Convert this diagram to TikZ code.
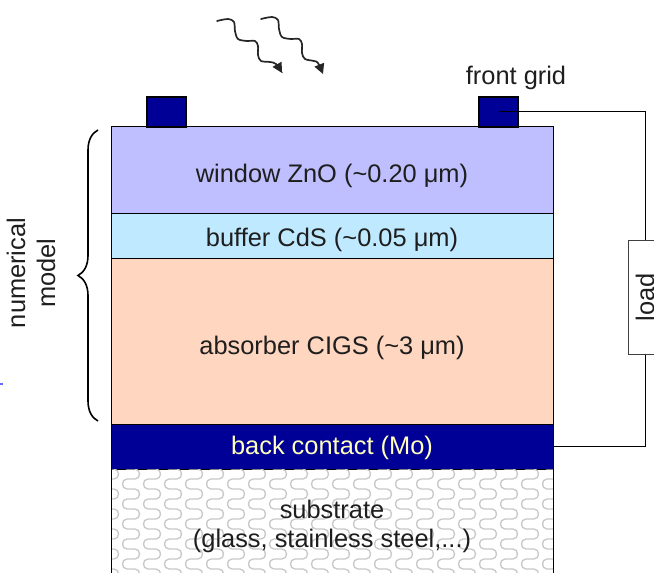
\documentclass[tikz,border=0pt]{standalone}
\usepackage{fontspec}
\setmainfont{Liberation Sans}
\usetikzlibrary{decorations.pathreplacing,arrows.meta}
\definecolor{winc}{RGB}{191,191,255}
\definecolor{bufc}{RGB}{191,233,255}
\definecolor{absc}{RGB}{255,214,192}
\definecolor{navyc}{RGB}{0,0,150}
\definecolor{txtc}{RGB}{255,255,191}
\definecolor{patc}{RGB}{200,200,200}
\definecolor{inkc}{RGB}{30,30,30}
\begin{document}
\begin{tikzpicture}[x=1bp,y=-1bp,
  txt/.style={font=\fontsize{25.5}{30}\selectfont, text=inkc, inner sep=0pt},
  layer/.style={draw=black, line width=1bp, minimum width=442bp, inner sep=0pt, outer sep=0pt, anchor=north west},
  gridc/.style={draw=black, line width=1.2bp, fill=navyc, minimum width=39bp, minimum height=30bp, inner sep=0pt},
  wire/.style={draw=black, line width=1bp},
  wavy/.style={draw=black!85, line width=1.7bp, line cap=round, -{Triangle[length=10bp,width=10bp]}},
  patline/.style={draw=patc, line width=1.3bp}]
\useasboundingbox (0,0) rectangle (654,573);
\clip (0,0) rectangle (654,573);

% layers
\node[layer, fill=winc, minimum height=86bp] (win) at (111,127) {};
\node[layer, fill=bufc, minimum height=45bp] (buf) at (111,213) {};
\node[layer, fill=absc, minimum height=166bp] (abs) at (111,258) {};
\node[layer, fill=navyc, minimum height=45bp] (back) at (111,424) {};
\node[txt] (wint) at (332,176) {window ZnO (\textasciitilde0.20 μm)};
\node[txt] (buft) at (332,240) {buffer CdS (\textasciitilde0.05 μm)};
\node[txt] (abst) at (332,347.5) {absorber CIGS (\textasciitilde3 μm)};
\node[txt, text=txtc] (backt) at (332,448) {back contact (Mo)};

% substrate
\node[anchor=north west, minimum width=442bp, minimum height=110bp, inner sep=0pt, outer sep=0pt] (sub) at (111,469) {};
\begin{scope}
\clip (sub.north west) rectangle (sub.south east);
\foreach \x in {104,125,...,570} {
  \draw[patline] (\x+10,459) \foreach \y in {459,479,...,579} { -- (\x+2,\y) .. controls (\x-4,\y) and (\x-4,\y+10) .. (\x+2,\y+10) -- (\x+10,\y+10) .. controls (\x+16,\y+10) and (\x+16,\y+20) .. (\x+10,\y+20) };
}
\end{scope}
\draw[wire] (sub.north west) -- (sub.south west);
\draw[wire] (sub.north east) -- (sub.south east);
\node[txt, align=center, font=\fontsize{25.5}{29}\selectfont] (subtxt) at (332,526) {substrate\\(glass, stainless steel,...)};

% front grid contacts
\node[gridc] (g1) at (166.5,112) {};
\node[gridc] (g2) at (498.5,112) {};
\node[txt] (fg) at (516,77.5) {front grid};

% load and wires
\node[draw=black!75, line width=1bp, minimum width=34bp, minimum height=114bp, inner sep=0pt] (load) at (645,297) {};
\node[txt, rotate=90] (loadtxt) at (load.center) {load};
\draw[wire] (g2.center) -| (load.north);
\draw[wire] (back.east) -| (load.south);

% brace and label
\coordinate (bb) at (98,421);
\coordinate (bt) at (98,130);
\draw[line width=1.6bp, decorate, decoration={brace, amplitude=20bp}] (bb) -- (bt);
\node[txt, rotate=90, align=center] (nm) at (31,273) {numerical\\model};

% light
\draw[wavy] plot[smooth, tension=0.55] coordinates {(217,21) (228,19) (234,22) (235,31) (238,39) (247,41) (255,41) (258,46) (258,55) (261,61) (270,62) (276,64) (282,73)};
\draw[wavy] plot[smooth, tension=0.55] coordinates {(261,19) (272,17) (278,20) (279,29) (282,37) (291,39) (299,39) (302,44) (302,53) (305,59) (314,61) (318,63) (323,74)};

% small mark
\draw[blue!60, line width=1.2bp] (0,384) -- (3,384);
\end{tikzpicture}
\end{document}
